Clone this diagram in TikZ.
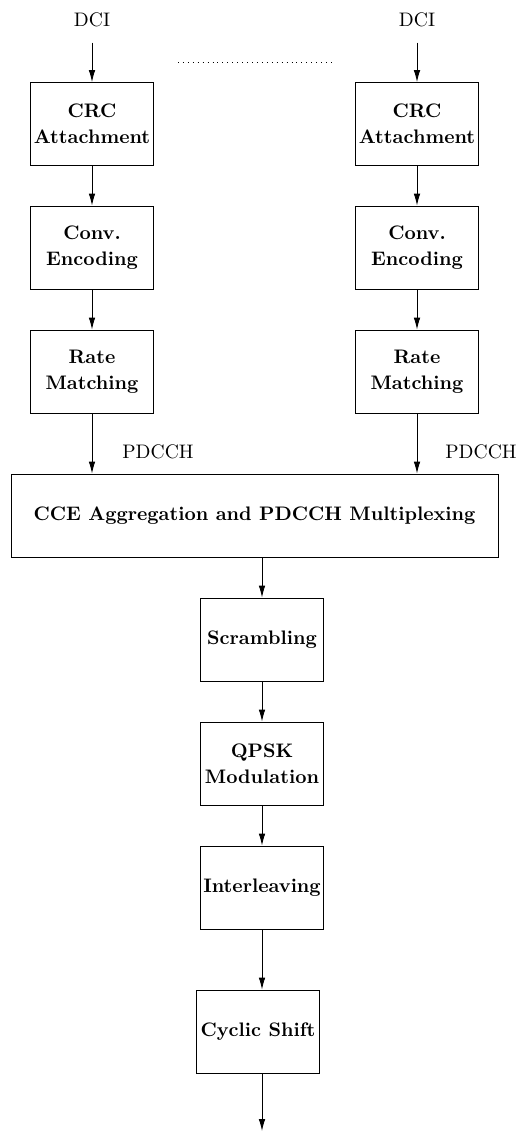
\documentclass[tikz,border=0pt]{standalone}
\usetikzlibrary{arrows.meta}
\tikzset{>={Latex[length=6.5pt,width=3.6pt]}}
\colorlet{penColor}{black}
\tikzset{
	every node/.style={font=\fontsize{10.7}{14}\selectfont},
	blockbox/.style={draw=penColor, line width=0.5pt, align=center, inner sep=1pt,
		font=\fontsize{10.7}{14}\selectfont\bfseries,
		minimum width=67.3pt, minimum height=45.4pt},
	widebox/.style={blockbox, minimum width=266.4pt, minimum height=45.4pt},
	flow/.style={->, penColor, line width=0.5pt}
}

\begin{document}
\begin{tikzpicture}[x=0.547pt, y=-0.547pt]
				\useasboundingbox (0,0) rectangle (531,1132);
				% the two DCI branches
				\node [penColor] (ldci) at (92,20) {DCI};
				\node [penColor] (rdci) at (417,20) {DCI};
				\draw [penColor, dash pattern=on 0.5pt off 2.2pt] (178,62) -- (332,62);
				\node [blockbox] (lcrc) at (92,124) {CRC\\Attachment};
				\node [blockbox] (rcrc) at (417,124) {CRC\\Attachment};
				\node [blockbox] (lconv) at (92,247.5) {Conv.\\Encoding};
				\node [blockbox] (rconv) at (417,247.5) {Conv.\\Encoding};
				\node [blockbox] (lrate) at (92,371.5) {Rate\\Matching};
				\node [blockbox] (rrate) at (417,371.5) {Rate\\Matching};
				\node [penColor] (lpdcch) at (158,452) {PDCCH};
				\node [penColor] (rpdcch) at (481,452) {PDCCH};
				% common chain
				\node [widebox] (cce) at (254.5,515.5) {CCE Aggregation and PDCCH Multiplexing};
				\node [blockbox] (scr) at (262,639.5) {Scrambling};
				\node [blockbox] (qpsk) at (262,763.5) {QPSK\\Modulation};
				\node [blockbox] (intl) at (262,887.5) {Interleaving};
				\node [blockbox] (cyc) at (258,1031.5) {Cyclic Shift};
				\coordinate (out) at (262,1131);
				\draw [flow, shorten <=5pt] (ldci) -- (lcrc);
				\draw [flow, shorten <=5pt] (rdci) -- (rcrc);
				\draw [flow] (lcrc) -- (lconv);
				\draw [flow] (rcrc) -- (rconv);
				\draw [flow] (lconv) -- (lrate);
				\draw [flow] (rconv) -- (rrate);
				\draw [flow] (lrate.south) -- (lrate.south |- cce.north);
				\draw [flow] (rrate.south) -- (rrate.south |- cce.north);
				\draw [flow] (scr.north |- cce.south) -- (scr.north);
				\draw [flow] (scr) -- (qpsk);
				\draw [flow] (qpsk) -- (intl);
				\draw [flow] (intl.south) -- (intl.south |- cyc.north);
				%\draw [flow] (cyc) -- (out);
				\draw [flow] (out |- cyc.south) -- (out);
\end{tikzpicture}
\end{document}
